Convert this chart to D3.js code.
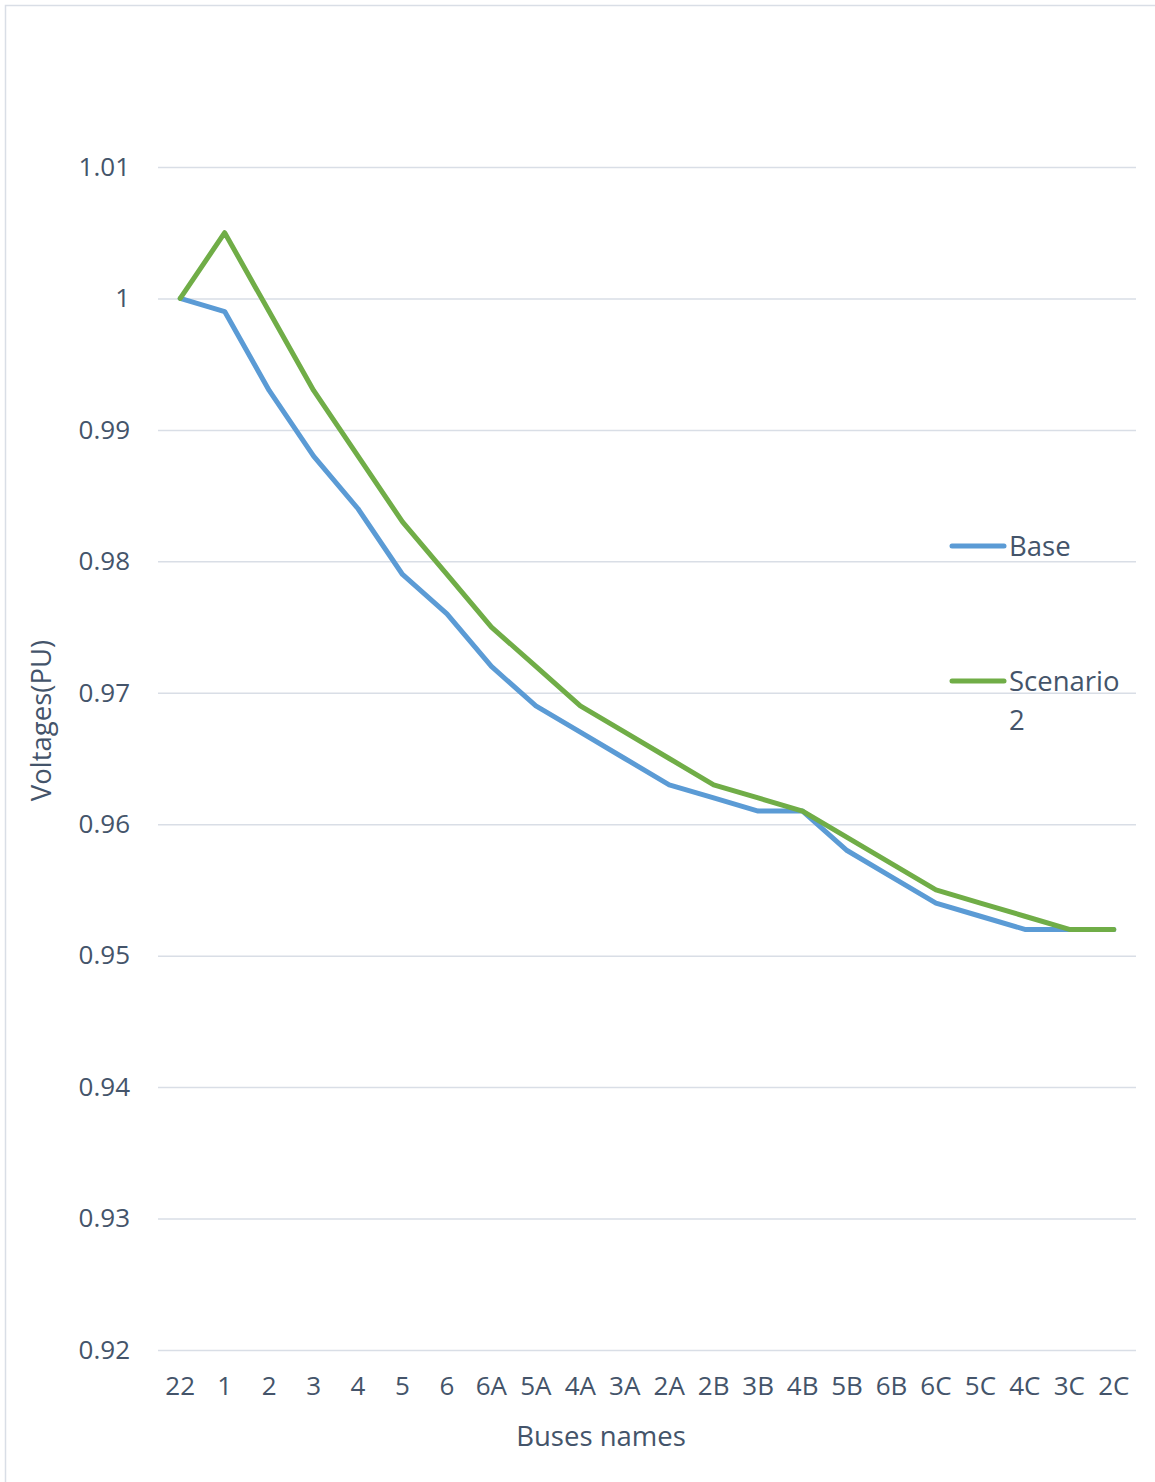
<!DOCTYPE html>
<html>
<head>
<meta charset="utf-8">
<script src="https://cdn.jsdelivr.net/npm/d3@7"></script>
<style>
  html, body { margin: 0; padding: 0; background: #fff; }
  svg text { font-family: "Open Sans", "Noto Sans", sans-serif; fill: #44546A; }
</style>
</head>
<body>
<svg id="chart" width="1155" height="1482"></svg>
<script>
// Bus names along the feeder
const buses = ["22","1","2","3","4","5","6","6A","5A","4A","3A","2A","2B","3B","4B","5B","6B","6C","5C","4C","3C","2C"];
// Per-unit voltages for each case
const baseVoltages = [1.000,0.999,0.993,0.988,0.984,0.979,0.976,0.972,0.969,0.967,0.965,0.963,0.962,0.961,0.961,0.958,0.956,0.954,0.953,0.952,0.952,0.952];
const scenario2Voltages = [1.000,1.005,0.999,0.993,0.988,0.983,0.979,0.975,0.972,0.969,0.967,0.965,0.963,0.962,0.961,0.959,0.957,0.955,0.954,0.953,0.952,0.952];
const yTicks = [0.92,0.93,0.94,0.95,0.96,0.97,0.98,0.99,1,1.01];
const seriesNames = ["Base", "Scenario 2"];

const series = [
  { name: seriesNames[0], values: baseVoltages, color: "#5B9BD5" },
  { name: seriesNames[1], values: scenario2Voltages, color: "#70AD47" }
];

const svg = d3.select("#chart");
const plot = { left: 158, right: 1136, top: 167, bottom: 1350 };

// chart frame
svg.append("rect")
  .attr("x", 5.5).attr("y", 5.5).attr("width", 1160).attr("height", 1490)
  .attr("fill", "none").attr("stroke", "#D9DEE6").attr("stroke-width", 1.5);

const x = d3.scaleBand().domain(buses).range([plot.left, plot.right]).padding(0);
const y = d3.scaleLinear().domain([0.92, 1.01]).range([plot.bottom, plot.top]);

// horizontal gridlines + tick labels
const yAxis = d3.axisLeft(y).tickValues(yTicks).tickSize(-(plot.right - plot.left)).tickPadding(28)
  .tickFormat(d => d3.format("")(+d.toFixed(2)));
const gy = svg.append("g").attr("transform", `translate(${plot.left},0)`).call(yAxis);
gy.select(".domain").remove();
gy.selectAll(".tick line").attr("stroke", "#D9DEE6").attr("stroke-width", 1.5);
gy.selectAll(".tick text").attr("font-size", 26).attr("fill", "#44546A");

// category labels
const xAxis = d3.axisBottom(x).tickSize(0).tickPadding(27);
const gx = svg.append("g").attr("transform", `translate(0,${plot.bottom})`).call(xAxis);
gx.select(".domain").remove();
gx.selectAll(".tick text").attr("font-size", 26).attr("fill", "#44546A");

// lines
const line = d3.line()
  .x((d, i) => x(buses[i]) + x.bandwidth() / 2)
  .y(d => y(d));

series.forEach(s => {
  svg.append("path")
    .datum(s.values)
    .attr("d", line)
    .attr("fill", "none")
    .attr("stroke", s.color)
    .attr("stroke-width", 5)
    .attr("stroke-linejoin", "round")
    .attr("stroke-linecap", "round");
});

// axis titles
svg.append("text")
  .attr("transform", `translate(51,${(plot.top + plot.bottom) / 2 - 38}) rotate(-90)`)
  .attr("text-anchor", "middle")
  .attr("font-size", 27.5)
  .text("Voltages(PU)");

svg.append("text")
  .attr("x", 601)
  .attr("y", 1446)
  .attr("text-anchor", "middle")
  .attr("font-size", 27.5)
  .text("Buses names");

// legend
const legend = svg.append("g");
const legendRows = [
  { s: series[0], y: 546, lines: ["Base"] },
  { s: series[1], y: 681, lines: ["Scenario", "2"] }
];
legendRows.forEach(r => {
  legend.append("line")
    .attr("x1", 952).attr("x2", 1004)
    .attr("y1", r.y).attr("y2", r.y)
    .attr("stroke", r.s.color).attr("stroke-width", 5)
    .attr("stroke-linecap", "round");
  r.lines.forEach((t, i) => {
    legend.append("text")
      .attr("x", 1009)
      .attr("y", r.y + 10 + i * 39)
      .attr("font-size", 27.5)
      .text(t);
  });
});
</script>
</body>
</html>
